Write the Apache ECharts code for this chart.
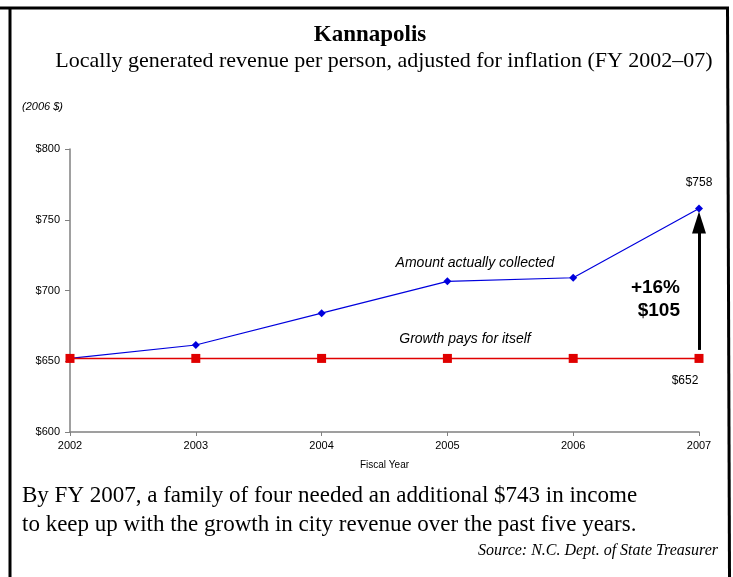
<!DOCTYPE html>
<html>
<head>
<meta charset="utf-8">
<script src="https://cdn.jsdelivr.net/npm/echarts@6/dist/echarts.min.js"></script>
<style>
html,body{margin:0;padding:0;background:#fff;}
#c{width:733px;height:577px;}
</style>
</head>
<body>
<div id="c"></div>
<script>
var years = ['2002','2003','2004','2005','2006','2007'];
var collected = [652, 661.5, 684, 706.5, 709, 758];
var breakEven = [652, 652, 652, 652, 652, 652];
var yTicks = {min: 600, max: 800, interval: 50};
var arrowFrom = 658, arrowTo = 748;

var chart = echarts.init(document.getElementById('c'), null, {renderer: 'canvas'});
var serif = '"Liberation Serif", "DejaVu Serif", serif';
var sans = '"Liberation Sans", Arial, sans-serif';

chart.setOption({
  animation: false,
  backgroundColor: '#fff',
  grid: {left: 70, right: 34, top: 149, bottom: 145},
  xAxis: {
    type: 'category', data: years, boundaryGap: false,
    name: 'Fiscal Year', nameLocation: 'middle', nameGap: 28,
    nameTextStyle: {fontFamily: '"Liberation Sans Narrow", "Arial Narrow", ' + sans, fontSize: 10, color: '#000'},
    axisLine: {lineStyle: {color: '#808080', width: 1.5}},
    axisTick: {show: true, length: 4, alignWithLabel: true, lineStyle: {color: '#808080'}},
    axisLabel: {color: '#000', fontFamily: sans, fontSize: 11, margin: 8},
    splitLine: {show: false}
  },
  yAxis: {
    type: 'value', min: yTicks.min, max: yTicks.max, interval: yTicks.interval,
    axisLine: {show: true, lineStyle: {color: '#808080', width: 1.5}},
    axisTick: {show: true, length: 5, lineStyle: {color: '#808080'}},
    axisLabel: {color: '#000', fontFamily: sans, fontSize: 11, margin: 10, formatter: '${value}'},
    splitLine: {show: false}
  },
  series: [
    {
      type: 'line', data: collected, color: '#0000dd',
      lineStyle: {width: 1.2, color: '#0000dd'},
      symbol: 'diamond', symbolSize: 8, itemStyle: {color: '#0000dd'},
      z: 3,
      label: {show: true, position: 'top', distance: 16, color: '#000', fontFamily: sans, fontSize: 12,
        formatter: function(p){ return p.dataIndex === collected.length - 1 ? '$' + Math.round(p.value) : ''; }},
      markLine: {
        silent: true, symbol: ['none', 'triangle'], symbolSize: [14, 22],
        label: {show: false},
        lineStyle: {color: '#000', width: 3, type: 'solid'},
        data: [[{coord: ['2007', arrowFrom]}, {coord: ['2007', arrowTo]}]]
      }
    },
    {
      type: 'line', data: breakEven, color: '#e00000',
      lineStyle: {width: 1.5, color: '#e00000'},
      symbol: 'rect', symbolSize: 9, itemStyle: {color: '#e00000'},
      z: 4,
      label: {show: true, position: 'bottom', distance: 12, color: '#000', fontFamily: sans, fontSize: 12,
        offset: [-14, 0],
        formatter: function(p){ return p.dataIndex === breakEven.length - 1 ? '$' + Math.round(p.value) : ''; }}
    }
  ],
  graphic: [
    {type: 'line', shape: {x1: 0, y1: 8, x2: 729, y2: 8}, style: {stroke: '#000', lineWidth: 3}},
    {type: 'line', shape: {x1: 10, y1: 8, x2: 10, y2: 577}, style: {stroke: '#000', lineWidth: 3}},
    {type: 'line', shape: {x1: 727.5, y1: 8, x2: 729.5, y2: 577}, style: {stroke: '#000', lineWidth: 3}},
    {type: 'text', x: 370, y: 24, style: {text: 'Kannapolis', font: 'bold 23px ' + serif, fill: '#000', textAlign: 'center'}},
    {type: 'text', x: 384, y: 50, style: {text: 'Locally generated revenue per person, adjusted for inflation (FY 2002\u201307)', font: '22px ' + serif, fill: '#000', textAlign: 'center'}},
    {type: 'text', x: 22, y: 101, style: {text: '(2006 $)', font: 'italic 11px ' + sans, fill: '#000'}},
    {type: 'text', x: 475, y: 256, style: {text: 'Amount actually collected', font: 'italic 14px ' + sans, fill: '#000', textAlign: 'center'}},
    {type: 'text', x: 465, y: 332, style: {text: 'Growth pays for itself', font: 'italic 14px ' + sans, fill: '#000', textAlign: 'center'}},
    {type: 'text', x: 680, y: 278, style: {text: '+16%', font: 'bold 19px ' + sans, fill: '#000', textAlign: 'right'}},
    {type: 'text', x: 680, y: 301, style: {text: '$105', font: 'bold 19px ' + sans, fill: '#000', textAlign: 'right'}},
    {type: 'text', x: 22, y: 484, style: {text: 'By FY 2007, a family of four needed an additional $743 in income', font: '23px ' + serif, fill: '#000'}},
    {type: 'text', x: 22, y: 513, style: {text: 'to keep up with the growth in city revenue over the past five years.', font: '23px ' + serif, fill: '#000'}},
    {type: 'text', x: 718, y: 543, style: {text: 'Source: N.C. Dept. of State Treasurer', font: 'italic 16px ' + serif, fill: '#000', textAlign: 'right'}}
  ]
});
</script>
</body>
</html>
